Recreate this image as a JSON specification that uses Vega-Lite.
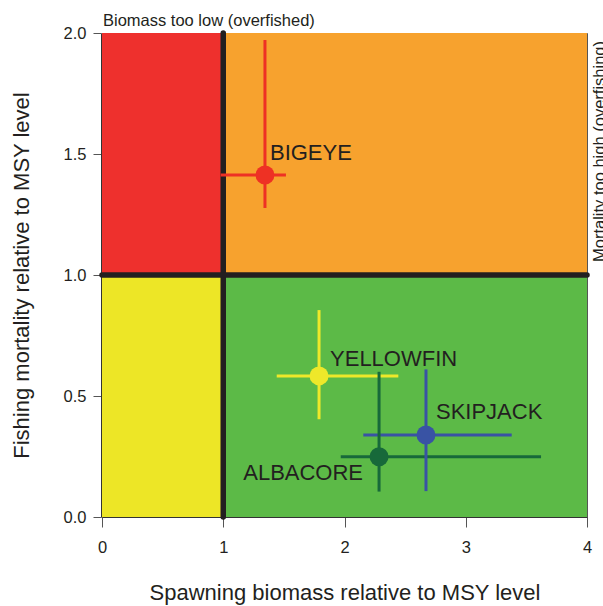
{
  "$schema": "https://vega.github.io/schema/vega-lite/v6.json",
  "width": 485,
  "height": 484,
  "autosize": "none",
  "padding": {"left": 102, "top": 33, "right": 16, "bottom": 89},
  "background": "white",
  "config": {
    "view": {"stroke": "#555", "strokeWidth": 1},
    "font": "Liberation Sans",
    "axis": {"grid": false, "labelFlush": false, "labelFont": "Liberation Sans", "titleFont": "Liberation Sans", "labelFontSize": 16.5, "titleFontSize": 22, "titleFontWeight": "normal", "labelColor": "#231F20", "titleColor": "#231F20", "domainColor": "#333", "tickColor": "#555", "domainWidth": 1, "tickWidth": 1}
  },
  "datasets": {
    "zones": [
      {"zone": "overfished_overfishing", "x0": 0, "x1": 1, "y0": 1, "y1": 2},
      {"zone": "overfishing", "x0": 1, "x1": 4, "y0": 1, "y1": 2},
      {"zone": "overfished", "x0": 0, "x1": 1, "y0": 0, "y1": 1},
      {"zone": "healthy", "x0": 1, "x1": 4, "y0": 0, "y1": 1}
    ],
    "refs": [
      {"ref": "vertical", "x0": 1, "x1": 1, "y0": 0, "y1": 2},
      {"ref": "horizontal", "x0": 0, "x1": 4, "y0": 1, "y1": 1}
    ],
    "stocks": [
      {"species": "BIGEYE", "x": 1.344, "y": 1.413, "xlo": 0.979, "xhi": 1.517, "ylo": 1.277, "yhi": 1.971},
      {"species": "YELLOWFIN", "x": 1.79, "y": 0.583, "xlo": 1.441, "xhi": 2.444, "ylo": 0.404, "yhi": 0.855},
      {"species": "ALBACORE", "x": 2.285, "y": 0.249, "xlo": 1.969, "xhi": 3.621, "ylo": 0.105, "yhi": 0.6},
      {"species": "SKIPJACK", "x": 2.672, "y": 0.339, "xlo": 2.155, "xhi": 3.379, "ylo": 0.107, "yhi": 0.61}
    ]
  },
  "layer": [
    {
      "data": {"name": "zones"},
      "mark": {"type": "rect"},
      "encoding": {
        "x": {"field": "x0", "type": "quantitative", "scale": {"domain": [0, 4], "nice": false, "zero": false},
          "axis": {"title": "Spawning biomass relative to MSY level", "values": [0, 1, 2, 3, 4], "format": "d", "tickSize": 10, "labelPadding": 12, "titlePadding": 27}},
        "x2": {"field": "x1"},
        "y": {"field": "y0", "type": "quantitative", "scale": {"domain": [0, 2], "nice": false, "zero": false},
          "axis": {"title": "Fishing mortality relative to MSY level", "values": [0, 0.5, 1, 1.5, 2], "format": ".1f", "tickSize": 8, "labelPadding": 7, "offset": 1, "titlePadding": 30}},
        "y2": {"field": "y1"},
        "color": {"field": "zone", "type": "nominal", "legend": null,
          "scale": {"domain": ["overfished_overfishing", "overfishing", "overfished", "healthy"], "range": ["#EE302D", "#F7A22E", "#EDE626", "#5CBA47"]}}
      }
    },
    {
      "data": {"name": "refs"},
      "mark": {"type": "rule", "color": "#231F20", "strokeWidth": 5.5, "strokeCap": "round"},
      "encoding": {
        "x": {"field": "x0", "type": "quantitative"},
        "x2": {"field": "x1"},
        "y": {"field": "y0", "type": "quantitative"},
        "y2": {"field": "y1"}
      }
    },
    {
      "data": {"name": "stocks"},
      "mark": {"type": "rule", "strokeWidth": 3},
      "encoding": {
        "x": {"field": "xlo", "type": "quantitative"},
        "x2": {"field": "xhi"},
        "y": {"field": "y", "type": "quantitative"},
        "color": {"field": "species", "type": "nominal", "legend": null,
          "scale": {"domain": ["BIGEYE", "YELLOWFIN", "ALBACORE", "SKIPJACK"], "range": ["#EE3124", "#EEE82A", "#17693A", "#3953A4"]}}
      }
    },
    {
      "data": {"name": "stocks"},
      "mark": {"type": "rule", "strokeWidth": 3},
      "encoding": {
        "x": {"field": "x", "type": "quantitative"},
        "y": {"field": "ylo", "type": "quantitative"},
        "y2": {"field": "yhi"},
        "color": {"field": "species", "type": "nominal", "legend": null,
          "scale": {"domain": ["BIGEYE", "YELLOWFIN", "ALBACORE", "SKIPJACK"], "range": ["#EE3124", "#EEE82A", "#17693A", "#3953A4"]}}
      }
    },
    {
      "data": {"name": "stocks"},
      "mark": {"type": "circle", "size": 360, "opacity": 1},
      "encoding": {
        "x": {"field": "x", "type": "quantitative"},
        "y": {"field": "y", "type": "quantitative"},
        "color": {"field": "species", "type": "nominal", "legend": null,
          "scale": {"domain": ["BIGEYE", "YELLOWFIN", "ALBACORE", "SKIPJACK"], "range": ["#EE3124", "#EEE82A", "#17693A", "#3953A4"]}}
      }
    },
    {
      "data": {"name": "stocks"},
      "transform": [{"filter": "datum.species === 'BIGEYE'"}],
      "mark": {"type": "text", "align": "left", "baseline": "alphabetic", "fontSize": 22, "color": "#231F20", "dx": 5, "dy": -15},
      "encoding": {"x": {"field": "x", "type": "quantitative"}, "y": {"field": "y", "type": "quantitative"}, "text": {"field": "species"}}
    },
    {
      "data": {"name": "stocks"},
      "transform": [{"filter": "datum.species === 'YELLOWFIN'"}],
      "mark": {"type": "text", "align": "left", "baseline": "alphabetic", "fontSize": 22, "color": "#231F20", "dx": 11, "dy": -10},
      "encoding": {"x": {"field": "x", "type": "quantitative"}, "y": {"field": "y", "type": "quantitative"}, "text": {"field": "species"}}
    },
    {
      "data": {"name": "stocks"},
      "transform": [{"filter": "datum.species === 'SKIPJACK'"}],
      "mark": {"type": "text", "align": "left", "baseline": "alphabetic", "fontSize": 22, "color": "#231F20", "dx": 10, "dy": -16},
      "encoding": {"x": {"field": "x", "type": "quantitative"}, "y": {"field": "y", "type": "quantitative"}, "text": {"field": "species"}}
    },
    {
      "data": {"name": "stocks"},
      "transform": [{"filter": "datum.species === 'ALBACORE'"}],
      "mark": {"type": "text", "align": "right", "baseline": "alphabetic", "fontSize": 22, "color": "#231F20", "dx": -16, "dy": 23},
      "encoding": {"x": {"field": "x", "type": "quantitative"}, "y": {"field": "y", "type": "quantitative"}, "text": {"field": "species"}}
    },
    {
      "data": {"values": [{"note": "Biomass too low (overfished)", "x": 0, "y": 2}]},
      "mark": {"type": "text", "align": "left", "baseline": "alphabetic", "fontSize": 16.5, "color": "#231F20", "dx": 1, "dy": -7},
      "encoding": {"x": {"field": "x", "type": "quantitative"}, "y": {"field": "y", "type": "quantitative"}, "text": {"field": "note"}}
    },
    {
      "data": {"values": [{"note": "Mortality too high (overfishing)", "x": 4, "y": 1.5}]},
      "mark": {"type": "text", "align": "center", "baseline": "alphabetic", "angle": 270, "fontSize": 16.5, "color": "#231F20", "dx": 2.5, "dy": 18},
      "encoding": {"x": {"field": "x", "type": "quantitative"}, "y": {"field": "y", "type": "quantitative"}, "text": {"field": "note"}}
    }
  ],
  "resolve": {"scale": {"color": "independent"}}
}
